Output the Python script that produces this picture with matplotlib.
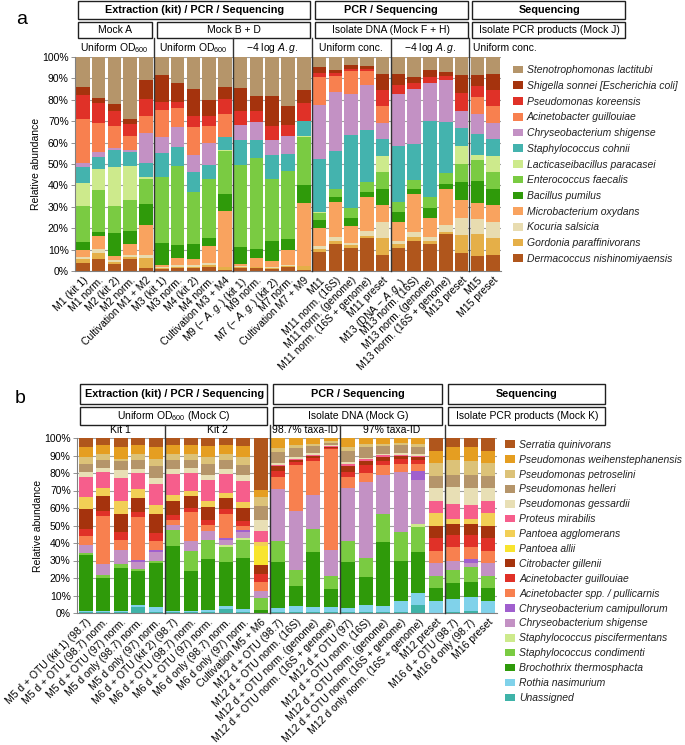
### Needed libraries ###

import numpy as np
import matplotlib.pyplot as plt
from matplotlib.patches import Patch, Rectangle
from matplotlib.transforms import blended_transform_factory

plt.rcParams['font.family'] = ['Liberation Sans', 'DejaVu Sans']
plt.rcParams['mathtext.fontset'] = 'custom'
plt.rcParams['mathtext.rm'] = 'Liberation Sans'
plt.rcParams['mathtext.it'] = 'Liberation Sans:italic'
plt.rcParams['mathtext.default'] = 'regular'



### Data panel a (relative abundance in %, one value per sample) ###

labels_a = ['M1 (kit 1)', 'M1 norm.', 'M2 (kit 2)', 'M2 norm.', 'Cultivation M1 + M2',
            'M3 (kit 1)', 'M3 norm.', 'M4 (kit 2)', 'M4 norm.', 'Cultivation M3 + M4',
            r'M9 (− $\mathit{A.g.}$) (kit 1)', 'M9 norm.', r'M7 (− $\mathit{A.g.}$) (kit 2)', 'M7 norm.', 'Cultivation M7 + M9',
            'M11', 'M11 norm. (16S)', 'M11 norm. (genome)', 'M11 norm. (16S + genome)', 'M11 preset',
            r'M13 (DNA − $\mathit{A.g.}$)', 'M13 norm. (16S)', 'M13 norm. (genome)', 'M13 norm. (16S + genome)', 'M13 preset',
            'M15', 'M15 preset']

derm  = [3.6, 5.5, 3.3, 5.5, 1.2, 1.1, 1.2, 1.2, 1.7, 0.5, 1.5, 1.3, 1.1, 2.0, 0.3, 9.0, 12.6, 10.9, 15.3, 7.69, 10.9, 14.0, 12.5, 17.2, 8.33, 7.0, 7.69]
gord  = [1.9, 2.8, 0.9, 1.2, 5.0, 0.3, 0.8, 0.8, 1.1, 1.5, 0.5, 0.4, 0.3, 0.4, 2.0, 1.3, 1.4, 1.3, 1.2, 7.69, 1.6, 1.8, 1.5, 1.2, 8.33, 10.3, 7.69]
koc   = [1.2, 1.9, 0.9, 0.8, 1.3, 0.3, 0.8, 0.8, 0.8, 0.0, 0.3, 0.3, 0.3, 0.4, 0.0, 1.4, 2.1, 1.1, 2.2, 7.69, 1.7, 2.6, 2.1, 3.1, 8.33, 6.9, 7.69]
micro = [3.1, 6.1, 2.1, 5.0, 14.0, 1.1, 3.1, 2.8, 8.1, 26.1, 0.8, 3.9, 3.1, 7.0, 29.4, 8.3, 16.3, 7.9, 16.1, 7.69, 8.9, 17.5, 8.5, 16.7, 8.33, 7.8, 7.69]
bac   = [3.6, 2.1, 10.7, 6.2, 9.9, 10.5, 6.3, 7.0, 3.9, 7.9, 8.0, 4.2, 9.4, 5.0, 8.5, 3.6, 2.4, 3.8, 2.3, 7.69, 4.7, 2.3, 4.7, 2.5, 8.33, 10.1, 7.69]
ent   = [17.2, 19.5, 12.7, 14.5, 11.8, 30.8, 36.9, 24.5, 27.3, 20.1, 38.5, 42.6, 28.7, 31.7, 22.5, 3.6, 3.4, 4.6, 4.7, 7.69, 4.3, 4.4, 5.5, 5.3, 8.33, 9.9, 7.69]
lac   = [10.4, 9.8, 17.8, 15.9, 0.6, 0, 0, 0, 0, 0.5, 0, 0, 0, 0, 0.5, 0.3, 0, 0, 0, 7.69, 0, 0, 0, 0, 8.33, 2.3, 7.69]
staph = [7.5, 5.5, 8.2, 6.3, 6.6, 11.0, 8.8, 9.0, 6.7, 6.1, 11.7, 8.3, 11.4, 8.3, 7.0, 24.8, 17.7, 34.1, 24.1, 7.69, 26.4, 16.8, 35.1, 23.6, 8.33, 9.9, 7.69]
chry  = [1.9, 2.4, 1.1, 1.2, 14.0, 7.5, 9.3, 8.1, 10.2, 0, 7.0, 8.6, 7.0, 8.1, 0, 25.3, 27.6, 19.0, 21.1, 7.69, 24.3, 25.6, 17.9, 19.5, 8.33, 9.3, 7.69]
acin  = [20.6, 13.5, 10.2, 6.6, 8.1, 12.8, 8.9, 13.0, 8.1, 10.6, 0, 0, 0, 0, 0, 13.2, 7.8, 10.9, 6.6, 7.69, 0, 0, 0, 0, 0, 7.8, 7.69]
pseu  = [11.4, 9.4, 7.0, 5.6, 7.8, 3.4, 3.1, 5.1, 4.3, 7.3, 6.6, 5.3, 6.6, 5.4, 8.1, 1.9, 1.2, 0.8, 0.8, 7.69, 4.2, 2.8, 2.7, 1.8, 8.33, 5.2, 7.69]
shig  = [3.6, 2.3, 3.3, 2.3, 9.1, 12.6, 8.6, 12.8, 7.8, 5.2, 10.6, 6.7, 14.1, 8.6, 6.2, 2.8, 1.6, 2.0, 1.2, 7.69, 5.2, 2.7, 3.6, 2.1, 8.33, 5.0, 7.69]
sten  = [14.0, 19.2, 21.8, 28.9, 10.6, 8.6, 12.2, 15.0, 20.0, 14.2, 14.5, 18.4, 18.0, 23.1, 15.5, 4.4, 5.9, 3.6, 4.4, 7.69, 7.8, 9.5, 5.9, 7.0, 8.33, 8.5, 7.69]

# Species from bottom of the stack to the top
names_a = ['Dermacoccus nishinomiyaensis', 'Gordonia paraffinivorans', 'Kocuria salsicia',
           'Microbacterium oxydans', 'Bacillus pumilus', 'Enterococcus faecalis',
           'Lacticaseibacillus paracasei', 'Staphylococcus cohnii', 'Chryseobacterium shigense',
           'Acinetobacter guillouiae', 'Pseudomonas koreensis', 'Shigella sonnei [Escherichia coli]',
           'Stenotrophomonas lactitubi']
values_a = [derm, gord, koc, micro, bac, ent, lac, staph, chry, acin, pseu, shig, sten]
colors_a = ['#b0561c', '#e5af48', '#e8dcb0', '#f9a35f', '#2f9a0a', '#7acb42', '#cdea8c',
            '#44b3ae', '#c391c4', '#f8804f', '#e03128', '#a5330d', '#b5956a']



### Data panel b ###

labels_b = ['M5 d + OTU (kit 1) (98.7)', 'M5 d + OTU (98.7) norm.', 'M5 d + OTU (97) norm.',
            'M5 d only (98.7) norm.', 'M5 d only (97) norm.', 'M6 d + OTU (kit 2) (98.7)',
            'M6 d + OTU (98.7) norm.', 'M6 d + OTU (97) norm.', 'M6 d only (98.7) norm.',
            'M6 d only (97) norm.', 'Cultivation M5 + M6', 'M12 d + OTU (98.7)',
            'M12 d + OTU norm. (16S)', 'M12 d + OTU norm. (genome)', 'M12 d + OTU norm. (16S + genome)',
            'M12 d + OTU (97)', 'M12 d + OTU norm. (16S)', 'M12 d + OTU norm. (genome)',
            'M12 d + OTU norm. (16S + genome)', 'M12 d only norm. (16S + genome)', 'M12 preset',
            'M16 d + OTU (98.7)', 'M16 d only (98.7)', 'M16 preset']

unas   = [0.5, 0.6, 0.5, 3.5, 0.5, 0.5, 0.5, 0.5, 2.5, 0.8, 0, 0.3, 0.3, 0.3, 0.3, 0.3, 0.3, 0.3, 0.3, 4.8, 0, 0.3, 1.0, 0]
roth   = [0.5, 0.7, 0.8, 1.3, 2.8, 0.5, 0.8, 1.4, 1.3, 1.7, 0, 2.6, 3.5, 2.9, 2.9, 2.6, 4.5, 3.5, 6.4, 6.6, 7.14, 7.9, 8.0, 7.14]
broch  = [32.0, 18.7, 24.4, 19.0, 25.1, 37.1, 22.5, 29.1, 25.3, 28.9, 1.9, 26.2, 11.8, 31.5, 10.7, 26.5, 15.6, 36.8, 23.3, 23.3, 7.14, 8.9, 8.8, 7.14]
scond  = [1.3, 1.5, 2.3, 1.5, 1.5, 9.5, 11.8, 10.9, 8.4, 10.5, 6.7, 11.8, 8.8, 13.5, 7.1, 11.8, 11.0, 16.0, 16.3, 14.3, 7.14, 7.7, 8.4, 7.14]
spisc  = [0, 0, 0, 0, 0, 0, 0, 0, 1.2, 1.0, 0, 0, 0, 0, 0, 0, 0, 0, 0, 1.9, 0, 0, 0, 0]
cshig  = [4.4, 6.5, 8.2, 3.8, 4.8, 2.9, 5.4, 5.1, 3.2, 3.4, 3.8, 30.1, 34.1, 19.0, 15.2, 30.1, 43.5, 22.4, 34.3, 25.3, 7.14, 4.7, 2.5, 7.14]
ccami  = [0, 0, 0, 1.4, 1.3, 0, 0, 0, 1.0, 1.3, 0, 0, 0, 0, 0, 0, 0, 0, 0, 5.1, 0, 0, 1.9, 0]
aspp   = [5.1, 27.2, 5.7, 24.2, 5.3, 2.5, 16.7, 3.5, 13.7, 2.3, 5.3, 6.5, 25.9, 19.5, 57.5, 6.5, 5.1, 5.4, 4.5, 3.8, 7.14, 8.0, 7.0, 7.14]
aguil  = [4.4, 3.3, 4.4, 3.0, 4.2, 3.2, 2.3, 2.8, 3.0, 2.5, 4.6, 3.4, 1.9, 1.9, 0.6, 3.0, 4.5, 2.7, 3.1, 2.5, 7.14, 7.3, 7.2, 7.14]
citro  = [11.2, 8.2, 10.3, 8.0, 11.0, 8.0, 6.7, 7.1, 6.1, 7.6, 4.9, 2.9, 1.3, 1.3, 0.4, 3.2, 2.5, 1.9, 1.3, 1.3, 7.14, 6.1, 6.1, 7.14]
pallii = [0, 0, 0, 0, 0, 0, 0, 0, 0, 0, 10.9, 0, 0, 0, 0, 0, 0, 0, 0, 0, 0, 0, 0, 0]
paggl  = [6.7, 4.7, 7.2, 5.3, 5.3, 3.4, 2.8, 3.4, 2.9, 3.4, 2.5, 0, 0, 0, 0, 0, 0, 0, 0, 0, 7.14, 2.8, 2.9, 7.14]
prot   = [11.6, 9.2, 13.3, 9.0, 12.2, 11.8, 10.5, 12.4, 10.8, 12.2, 6.1, 1.0, 0.6, 0.6, 0.6, 1.3, 1.0, 1.1, 1.0, 1.1, 7.14, 8.6, 8.2, 7.14]
pgess  = [2.9, 2.3, 4.4, 2.5, 3.4, 3.1, 2.9, 2.8, 3.1, 3.4, 6.6, 1.1, 0.8, 1.0, 0.6, 1.1, 0.6, 0.8, 0.9, 0.8, 7.14, 9.5, 9.5, 7.14]
phell  = [4.7, 4.7, 5.2, 5.1, 6.6, 5.1, 4.7, 6.1, 5.1, 5.8, 8.0, 6.1, 5.3, 3.8, 1.5, 6.1, 6.1, 4.3, 4.8, 3.8, 7.14, 7.2, 7.6, 7.14]
ppetr  = [3.7, 3.3, 1.3, 3.3, 3.8, 3.3, 3.3, 3.9, 3.3, 4.2, 4.8, 2.3, 1.9, 1.3, 1.1, 2.3, 1.9, 1.4, 0.9, 1.9, 7.14, 8.6, 8.0, 7.14]
pweih  = [5.7, 5.3, 6.9, 5.3, 6.9, 4.9, 4.9, 6.2, 4.9, 6.2, 4.4, 5.7, 3.8, 3.4, 1.5, 5.2, 3.4, 3.4, 2.9, 3.5, 7.14, 7.1, 7.6, 7.14]
serr   = [5.3, 3.8, 5.1, 3.8, 5.3, 4.2, 4.2, 4.8, 4.2, 4.8, 29.5, 0, 0, 0, 0, 0, 0, 0, 0, 0, 7.14, 5.3, 5.3, 7.14]

names_b = ['Unassigned', 'Rothia nasimurium', 'Brochothrix thermosphacta', 'Staphylococcus condimenti',
           'Staphylococcus piscifermentans', 'Chryseobacterium shigense', 'Chryseobacterium camipullorum',
           'Acinetobacter spp. / pullicarnis', 'Acinetobacter guillouiae', 'Citrobacter gillenii',
           'Pantoea allii', 'Pantoea agglomerans', 'Proteus mirabilis', 'Pseudomonas gessardii',
           'Pseudomonas helleri', 'Pseudomonas petroselini', 'Pseudomonas weihenstephanensis',
           'Serratia quinivorans']
values_b = [unas, roth, broch, scond, spisc, cshig, ccami, aspp, aguil, citro, pallii, paggl,
            prot, pgess, phell, ppetr, pweih, serr]
colors_b = ['#3fb3a8', '#80d2ea', '#2f9a0a', '#7acb42', '#cdea8c', '#c391c4', '#a05fce',
            '#f8804f', '#e03128', '#a5330d', '#f8e42e', '#f2cf55', '#f65e8c', '#e8dfb5',
            '#b5956a', '#dcc278', '#e59e21', '#b0561c']



### Header structure (text, first bar edge, last bar edge) ###

row1_a = [('Extraction (kit) / PCR / Sequencing', -0.5, 14.5), ('PCR / Sequencing', 14.5, 24.5), ('Sequencing', 24.5, 34.5)]
row2_a = [('Mock A', -0.5, 4.5), ('Mock B + D', 4.5, 14.5), ('Isolate DNA (Mock F + H)', 14.5, 24.5),
          ('Isolate PCR products (Mock J)', 24.5, 34.5)]
row3_a = [('Uniform OD$_{600}$', -0.5, 4.5), ('Uniform OD$_{600}$', 4.5, 9.5), (r'−4 log $\mathit{A.g.}$', 9.5, 14.5),
          ('Uniform conc.', 14.5, 19.5), (r'−4 log $\mathit{A.g.}$', 19.5, 24.5)]
split_a = [4.5, 9.5, 14.5, 19.5, 24.5]

row1_b = [('Extraction (kit) / PCR / Sequencing', -0.5, 10.5), ('PCR / Sequencing', 10.5, 20.5), ('Sequencing', 20.5, 29.8)]
row2_b = [('Uniform OD$_{600}$ (Mock C)', -0.5, 10.5), ('Isolate DNA (Mock G)', 10.5, 20.5),
          ('Isolate PCR products (Mock K)', 20.5, 29.8)]
row3_b = [('Kit 1', -0.5, 4.5), ('Kit 2', 4.5, 10.5), ('98.7% taxa-ID', 10.5, 14.5), ('97% taxa-ID', 14.5, 20.5)]
split_b = [4.5, 10.5, 14.5, 20.5]



### Drawing helpers ###

def stacked_bars(ax, labels, names, values, colors, bar_w):

    # Stack every species on top of the previous ones
    x = np.arange(len(labels))
    bottom = np.zeros(len(labels))
    for name, vals, col in zip(names, values, colors):
        ax.bar(x, vals, bar_w, bottom=bottom, color=col, label=name, linewidth=0, zorder=2)
        bottom += np.array(vals)

    # Axis cosmetics
    ax.set_yticks(np.arange(0, 101, 10))
    ax.set_yticklabels(['{:d}%'.format(v) for v in range(0, 101, 10)], fontsize=7.5)
    ax.yaxis.grid(True, color='#a0a0a0', lw=0.8, zorder=0)
    ax.set_axisbelow(True)
    ax.set_xticks(x)
    ax.set_xticklabels(labels, rotation=45, ha='right', rotation_mode='anchor', fontsize=7.5)
    ax.tick_params(axis='x', length=0, pad=3)
    ax.tick_params(axis='y', length=3, width=0.6, color='#808080', pad=1.5)
    ax.set_ylabel('Relative abundance', fontsize=7.5, labelpad=1)
    for s in ['top', 'right']:
        ax.spines[s].set_visible(False)
    for s in ['left', 'bottom']:
        ax.spines[s].set_color('#808080')
        ax.spines[s].set_linewidth(0.8)


def header(ax, row1, row2, row3, splits, y1, y2, y3, row3_left=None):

    # x in data units, y in axes units
    trans = blended_transform_factory(ax.transData, ax.transAxes)

    # Framed boxes of the two upper rows
    for row, (lo, hi), bold, size in [(row1, y1, 'bold', 7.8), (row2, y2, 'normal', 7.5)]:
        for text, x0, x1 in row:
            ax.add_patch(Rectangle((x0 + 0.18, lo), x1 - x0 - 0.3, hi - lo, transform=trans,
                                   fill=False, ec='#202020', lw=1.0, clip_on=False))
            ax.text((x0 + x1) / 2 + 0.05, (lo + hi) / 2, text, transform=trans, ha='center',
                    va='center', fontsize=size, fontweight=bold, clip_on=False)

    # Lower row of plain labels
    for text, x0, x1 in row3:
        ax.text((x0 + x1) / 2, y3, text, transform=trans, ha='center', va='center',
                fontsize=7.5, clip_on=False)
    if row3_left is not None:
        ax.text(row3_left[1], y3, row3_left[0], transform=trans, ha='left', va='center',
                fontsize=7.5, clip_on=False)

    # Group dividers running through the bars
    for xs in splits:
        ax.plot([xs, xs], [0, y2[0]], transform=trans, color='#333333', lw=1.0, clip_on=False, zorder=3)


def species_legend(ax, names, colors, anchor, spacing):
    handles = [Patch(facecolor=c, edgecolor='none', label=n) for n, c in zip(names, colors)]
    leg = ax.legend(handles=handles[::-1], loc='upper left', bbox_to_anchor=anchor, frameon=False,
                    fontsize=7.5, handlelength=1.0, handleheight=0.75, handletextpad=0.35,
                    labelspacing=spacing, borderpad=0, borderaxespad=0)
    for t in leg.get_texts():
        t.set_fontstyle('italic')
        t.set_color('#222222')



### Figure ###

fig = plt.figure(figsize=(6.85, 7.45), dpi=100)

ax_a = fig.add_axes([75 / 685, 1 - 271 / 745, 426 / 685, 214 / 745])
stacked_bars(ax_a, labels_a, names_a, values_a, colors_a, 0.86)
header(ax_a, row1_a, row2_a, row3_a, split_a, (1.178, 1.262), (1.089, 1.164), 1.042,
       row3_left=('Uniform conc.', 24.75))
species_legend(ax_a, names_a, colors_a, (1.028, 0.962), 0.55)
ax_a.set_xlim(-0.5, len(labels_a) - 0.5)
ax_a.set_ylim(0, 100)

ax_b = fig.add_axes([77 / 685, 1 - 613 / 745, 420 / 685, 175 / 745])
stacked_bars(ax_b, labels_b, names_b, values_b, colors_b, 0.8)
header(ax_b, row1_b, row2_b, row3_b, split_b, (1.194, 1.309), (1.074, 1.177), 1.046)
species_legend(ax_b, names_b, colors_b, (1.019, 0.99), 0.47)
ax_b.set_xlim(-0.5, len(labels_b) - 0.5)
ax_b.set_ylim(0, 100)

# Panel letters
fig.text(22 / 685, 1 - 20 / 745, 'a', fontsize=14, ha='center', va='center')
fig.text(20 / 685, 1 - 398 / 745, 'b', fontsize=14, ha='center', va='center')

fig.savefig('out.png', dpi=100)
